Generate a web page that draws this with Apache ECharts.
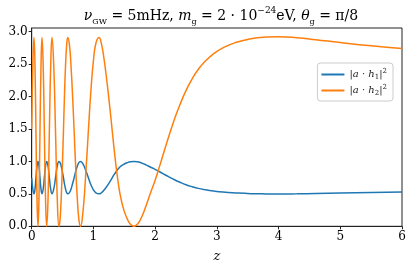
<!DOCTYPE html>
<html>
<head>
<meta charset="utf-8">
<script src="https://cdn.jsdelivr.net/npm/echarts@6/dist/echarts.min.js"></script>
<style>html,body{margin:0;padding:0;background:#fff}#c{width:413px;height:270px}</style>
</head>
<body>
<div id="c"></div>
<script>
// z grid
var zValues = [0.000,0.019,0.037,0.053,0.069,0.086,0.102,0.118,0.134,0.151,0.167,0.186,0.205,0.224,0.243,0.265,0.286,0.308,0.329,0.357,0.386,0.414,0.442,0.460,0.478,0.496,0.514,0.531,0.549,0.567,0.585,0.611,0.636,0.662,0.688,0.713,0.739,0.764,0.790,0.830,0.870,0.917,0.960,1.000,1.040,1.092,1.130,1.170,1.210,1.250,1.290,1.330,1.370,1.410,1.450,1.500,1.550,1.600,1.658,1.720,1.780,1.850,1.920,2.000,2.080,2.160,2.240,2.320,2.400,2.500,2.600,2.700,2.800,2.950,3.100,3.300,3.550,3.800,4.000,4.300,4.600,5.000,5.500,6.000];
// |a·h2|^2 (orange)
var h2Values = [1.50,2.50,2.91,2.48,1.46,0.43,0.00,0.43,1.46,2.48,2.91,2.48,1.46,0.43,0.00,0.43,1.46,2.48,2.91,2.48,1.46,0.43,0.00,0.11,0.43,0.90,1.46,2.01,2.49,2.80,2.91,2.80,2.49,2.01,1.46,0.90,0.43,0.11,0.00,0.22,0.72,1.45,2.10,2.55,2.82,2.91,2.81,2.59,2.30,1.97,1.61,1.24,0.90,0.62,0.41,0.23,0.11,0.03,0.00,0.04,0.14,0.31,0.50,0.71,0.95,1.20,1.44,1.67,1.87,2.09,2.27,2.42,2.53,2.66,2.75,2.83,2.89,2.915,2.92,2.905,2.875,2.83,2.78,2.74];
// |a·h1|^2 (blue)
var h1Values = [0.742,0.570,0.500,0.574,0.749,0.926,1.000,0.926,0.749,0.574,0.500,0.574,0.749,0.926,1.000,0.926,0.749,0.574,0.500,0.574,0.749,0.926,1.000,0.981,0.926,0.845,0.749,0.655,0.572,0.519,0.500,0.519,0.572,0.655,0.749,0.845,0.926,0.981,1.000,0.962,0.876,0.751,0.639,0.562,0.515,0.500,0.517,0.555,0.605,0.662,0.723,0.787,0.845,0.893,0.930,0.960,0.981,0.995,1.000,0.993,0.976,0.947,0.914,0.878,0.837,0.794,0.753,0.713,0.679,0.641,0.610,0.584,0.565,0.543,0.527,0.514,0.503,0.499,0.498,0.501,0.506,0.514,0.522,0.529];
var xTicks = [0,1,2,3,4,5,6];
var yTicks = [0,0.5,1.0,1.5,2.0,2.5,3.0];
var seriesNames = ['h1','h2'];

var serif = "'DejaVu Serif', 'Liberation Serif', serif";
function pairs(ys){ return zValues.map(function(z,i){return [z, ys[i]];}); }

var chart = echarts.init(document.getElementById('c'), null, {renderer:'canvas'});
chart.setOption({
  animation:false,
  backgroundColor:'#fff',
  title:{
    left:216, top:1, textAlign:'center',
    text:'{i|ν}{sub|GW}{n| = 5mHz, }{i|m}{sub|g}{n| = 2 · 10}{sup|−24}{n|eV, }{i|θ}{sub|g}{n| = π/8}',
    textStyle:{
      fontFamily:serif, fontSize:14, color:'#000', fontWeight:'normal',
      rich:{
        n:{fontFamily:serif,fontSize:14,color:'#000',lineHeight:20},
        i:{fontFamily:serif,fontSize:14,fontStyle:'italic',color:'#000',lineHeight:20},
        sub:{fontFamily:serif,fontSize:8,color:'#000',verticalAlign:'bottom',lineHeight:20},
        sup:{fontFamily:serif,fontSize:9,color:'#000',verticalAlign:'top',lineHeight:17}
      }
    }
  },
  grid:{left:31.7, right:11, top:28, bottom:43.7, show:true, borderColor:'#222', borderWidth:1, backgroundColor:'transparent'},
  legend:{
    orient:'vertical', right:20, top:63,
    data:seriesNames,
    icon:'rect', itemWidth:23, itemHeight:2, itemGap:3,
    padding:[5,6,4,4],
    borderColor:'#ccc', borderWidth:1, borderRadius:3,
    backgroundColor:'rgba(255,255,255,0.8)',
    formatter:function(n){ return n==='h1' ? '{t||}{i|a}{t| · }{i|h}{sub|1}{t||}{sup|2}' : '{t||}{i|a}{t| · }{i|h}{sub|2}{t||}{sup|2}'; },
    textStyle:{
      fontFamily:serif, fontSize:10, color:'#222',
      rich:{
        t:{fontFamily:serif,fontSize:10,color:'#222',lineHeight:13},
        i:{fontFamily:serif,fontSize:10,fontStyle:'italic',color:'#222',lineHeight:13},
        sub:{fontFamily:serif,fontSize:7,color:'#222',verticalAlign:'bottom',lineHeight:13},
        sup:{fontFamily:serif,fontSize:7,color:'#222',verticalAlign:'top',lineHeight:13}
      }
    }
  },
  xAxis:{
    type:'value', min:0, max:6, interval:1,
    name:'z', nameLocation:'middle', nameGap:24,
    nameTextStyle:{fontFamily:serif, fontSize:13, fontStyle:'italic', color:'#000'},
    axisLine:{show:true, lineStyle:{color:'#222', width:1}},
    axisTick:{show:true, length:3, lineStyle:{color:'#222'}, customValues:xTicks},
    axisLabel:{fontFamily:serif, fontSize:12, color:'#000', margin:5, customValues:xTicks},
    splitLine:{show:false}
  },
  yAxis:{
    type:'value', min:0, max:3.055, interval:0.5,
    axisLine:{show:true, lineStyle:{color:'#222', width:1}},
    axisTick:{show:true, length:3, lineStyle:{color:'#222'}, customValues:yTicks},
    axisLabel:{fontFamily:serif, fontSize:12, color:'#000', margin:4, customValues:yTicks,
      formatter:function(v){return v.toFixed(1);}},
    splitLine:{show:false}
  },
  series:[
    {name:'h1', type:'line', data:pairs(h1Values), showSymbol:false, smooth:0.5,
      lineStyle:{color:'#1f77b4', width:1.5}, itemStyle:{color:'#1f77b4'}, z:2},
    {name:'h2', type:'line', data:pairs(h2Values), showSymbol:false, smooth:0.5,
      lineStyle:{color:'#ff7f0e', width:1.5}, itemStyle:{color:'#ff7f0e'}, z:3}
  ]
});
</script>
</body>
</html>
